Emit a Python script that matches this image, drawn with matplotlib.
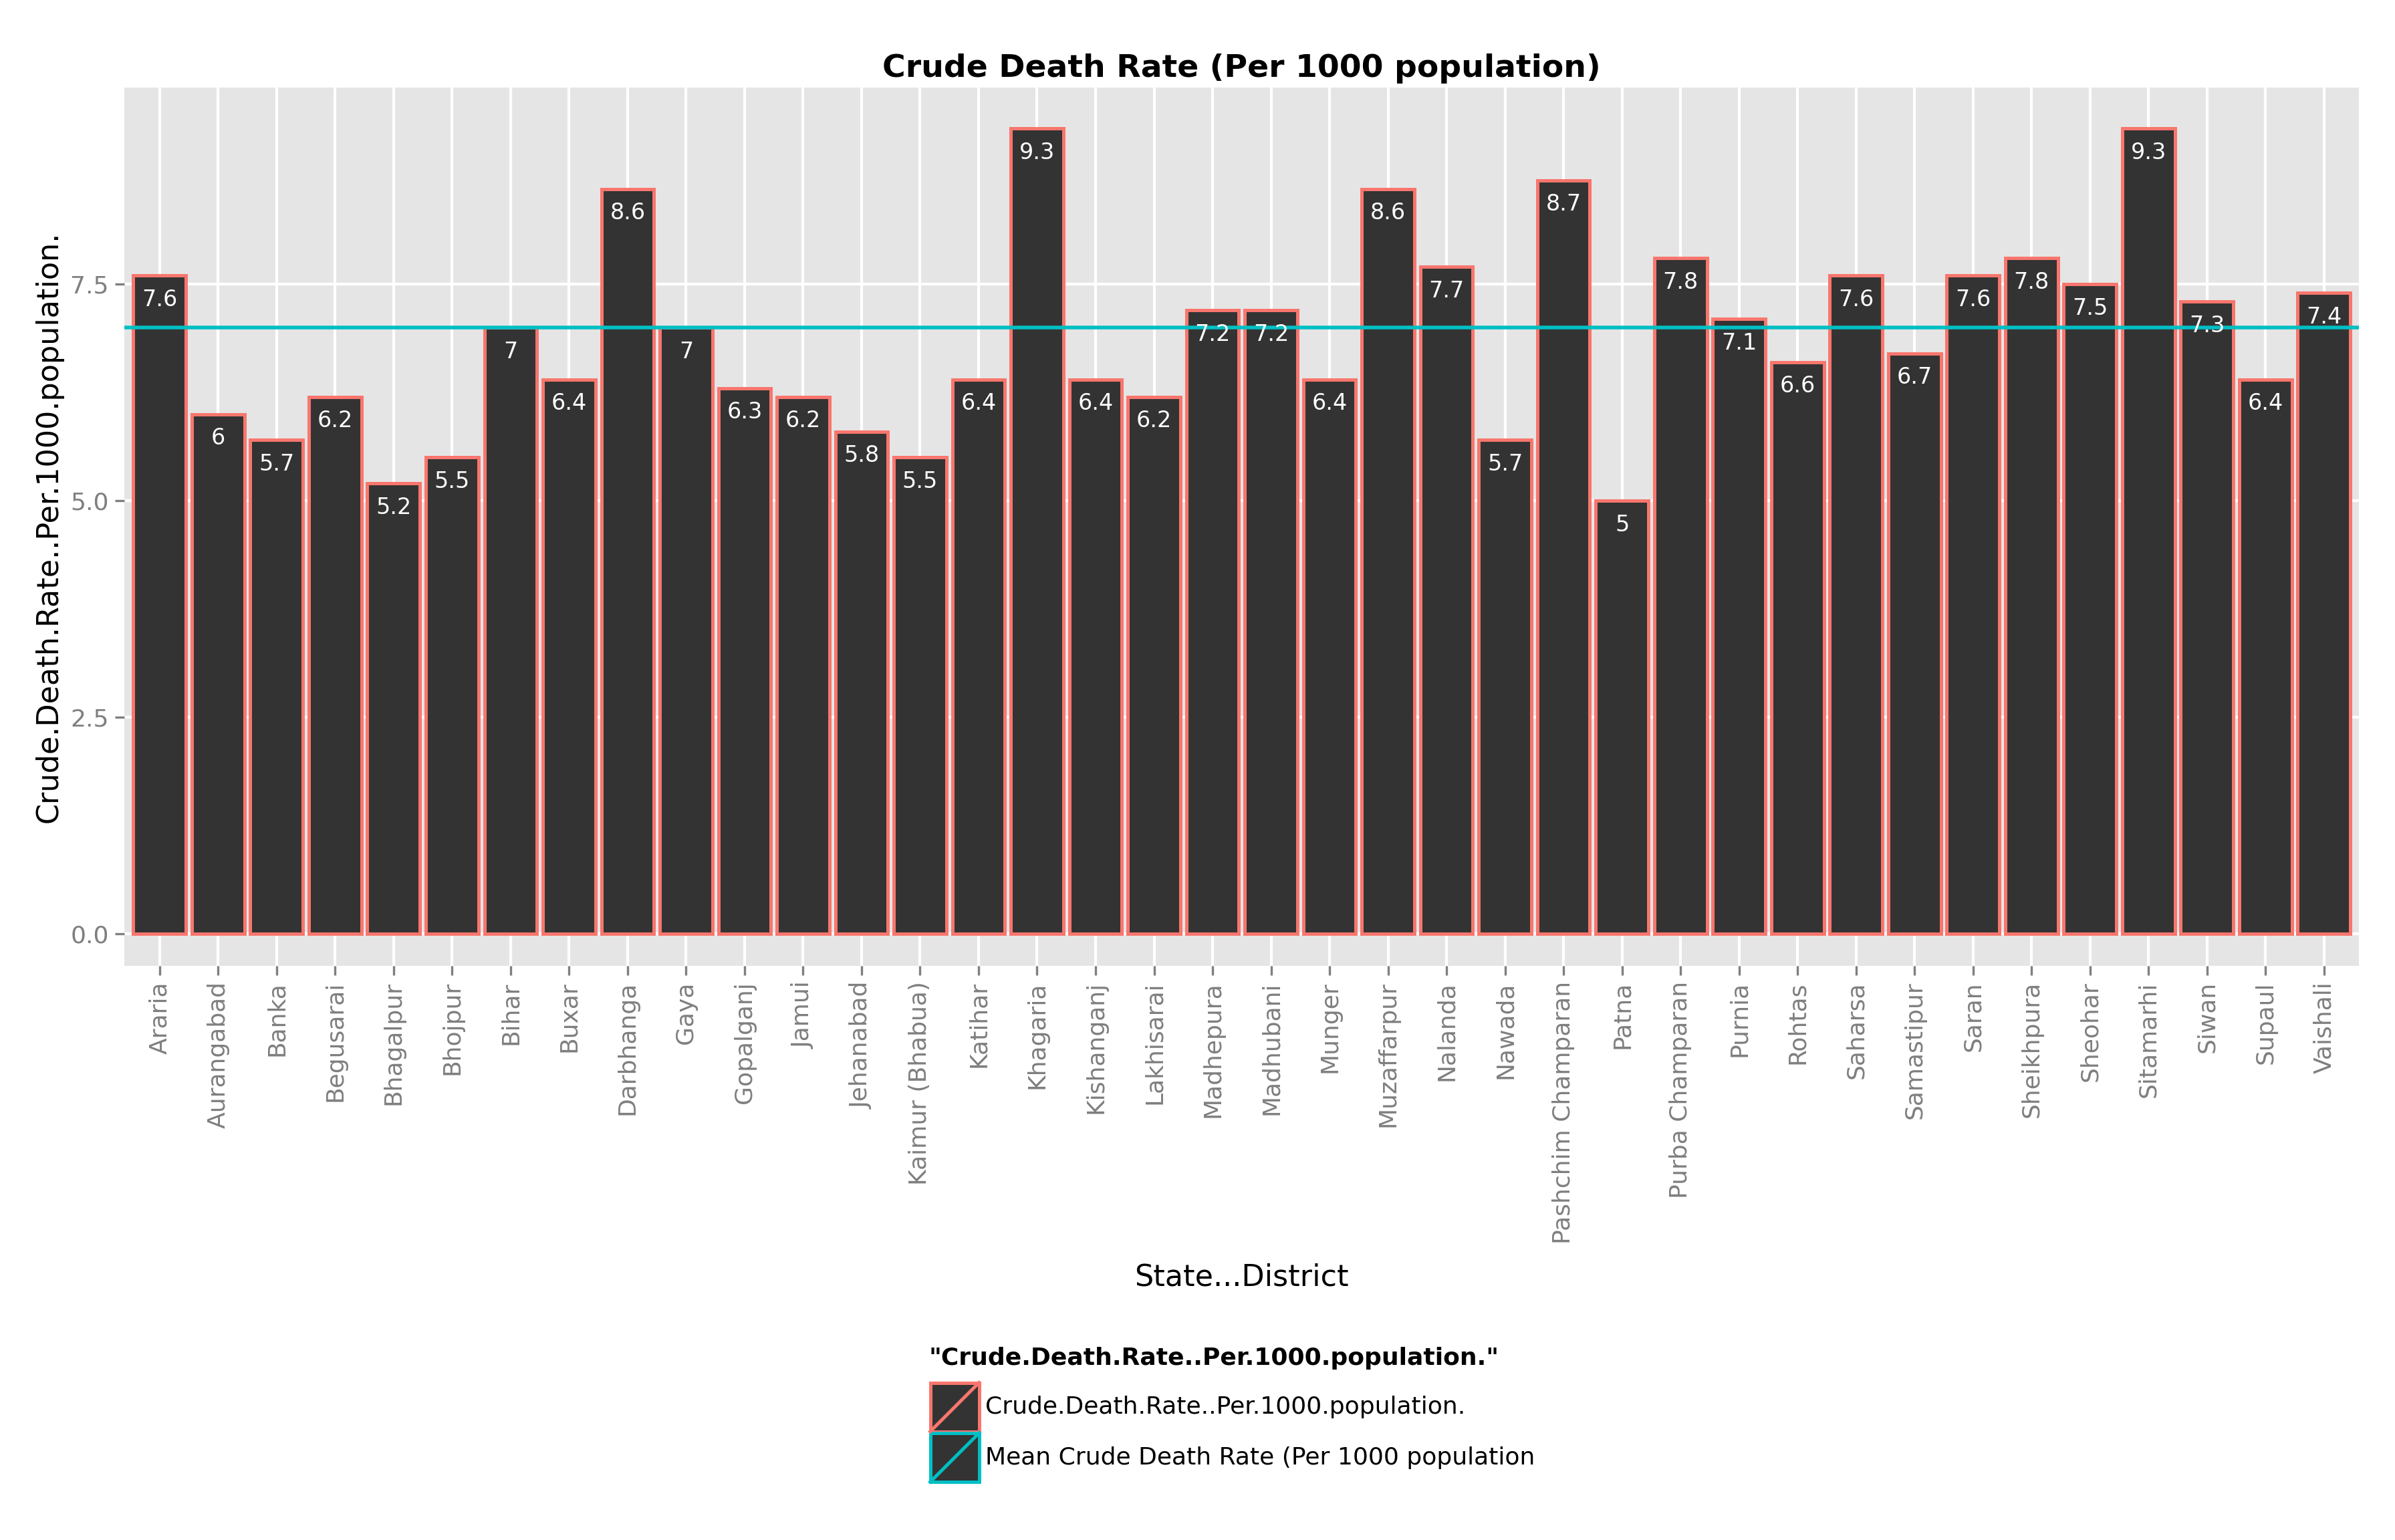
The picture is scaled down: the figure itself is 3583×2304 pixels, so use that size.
import matplotlib.pyplot as plt
from matplotlib.patches import Rectangle
from matplotlib.lines import Line2D

districts = ["Araria", "Aurangabad", "Banka", "Begusarai", "Bhagalpur", "Bhojpur", "Bihar", "Buxar",
             "Darbhanga", "Gaya", "Gopalganj", "Jamui", "Jehanabad", "Kaimur (Bhabua)", "Katihar",
             "Khagaria", "Kishanganj", "Lakhisarai", "Madhepura", "Madhubani", "Munger", "Muzaffarpur",
             "Nalanda", "Nawada", "Pashchim Champaran", "Patna", "Purba Champaran", "Purnia", "Rohtas",
             "Saharsa", "Samastipur", "Saran", "Sheikhpura", "Sheohar", "Sitamarhi", "Siwan", "Supaul",
             "Vaishali"]
rates = [7.6, 6, 5.7, 6.2, 5.2, 5.5, 7, 6.4, 8.6, 7, 6.3, 6.2, 5.8, 5.5, 6.4, 9.3, 6.4, 6.2, 7.2, 7.2,
         6.4, 8.6, 7.7, 5.7, 8.7, 5, 7.8, 7.1, 6.6, 7.6, 6.7, 7.6, 7.8, 7.5, 9.3, 7.3, 6.4, 7.4]
labels = ["7.6", "6", "5.7", "6.2", "5.2", "5.5", "7", "6.4", "8.6", "7", "6.3", "6.2", "5.8", "5.5",
          "6.4", "9.3", "6.4", "6.2", "7.2", "7.2", "6.4", "8.6", "7.7", "5.7", "8.7", "5", "7.8", "7.1",
          "6.6", "7.6", "6.7", "7.6", "7.8", "7.5", "9.3", "7.3", "6.4", "7.4"]
mean_rate = 7.0

red = "#F8766D"
cyan = "#00BFC4"

fig = plt.figure(figsize=(17.915, 11.52), dpi=200)
ax = fig.add_axes([0.052, 0.373, 0.933, 0.570])
ax.set_facecolor("#E5E5E5")
x = list(range(len(districts)))
ax.bar(x, rates, width=0.9, color="#333333", edgecolor=red, linewidth=1.8, zorder=2)
for xi, v, lab in zip(x, rates, labels):
    ax.text(xi, v - 0.15, lab, color="white", ha="center", va="top", fontsize=12, zorder=4)
ax.axhline(mean_rate, color=cyan, linewidth=2, zorder=3)

ax.set_xlim(-0.6, len(districts) - 0.4)
ax.set_ylim(-0.37, 9.77)
ax.set_yticks([0, 2.5, 5, 7.5])
ax.set_yticklabels(["0.0", "2.5", "5.0", "7.5"])
ax.set_xticks(x)
ax.set_xticklabels(districts, rotation=90, ha="center", va="top")
ax.tick_params(colors="#7F7F7F", labelsize=13, length=5, width=1.2)
ax.grid(True, color="white", linewidth=1.5, zorder=0)
ax.set_axisbelow(True)
for s in ax.spines.values():
    s.set_visible(False)
ax.set_title("Crude Death Rate (Per 1000 population)", fontsize=17, fontweight="bold", pad=6)
ax.set_ylabel("Crude.Death.Rate..Per.1000.population.", fontsize=16)
ax.set_xlabel("State...District", fontsize=16, labelpad=10)

# legend
fig.text(608 / 1568, 1 - 889 / 1008, '"Crude.Death.Rate..Per.1000.population."', fontsize=13,
         fontweight="bold", va="center")
keys = [(red, "Crude.Death.Rate..Per.1000.population.", 905), (cyan, "Mean Crude Death Rate (Per 1000 population", 938)]
for col, txt, ytop in keys:
    x0, x1 = 609 / 1568, 641 / 1568
    y0, y1 = 1 - (ytop + 32) / 1008, 1 - ytop / 1008
    fig.patches.append(Rectangle((x0, y0), x1 - x0, y1 - y0, transform=fig.transFigure,
                                 facecolor="#333333", edgecolor=col, linewidth=1.8))
    fig.lines.append(Line2D([x0, x1], [y0, y1], transform=fig.transFigure, color=col, linewidth=1.8))
    fig.text(645 / 1568, (y0 + y1) / 2, txt, fontsize=13, va="center")

fig.savefig("out.png", dpi=200)
